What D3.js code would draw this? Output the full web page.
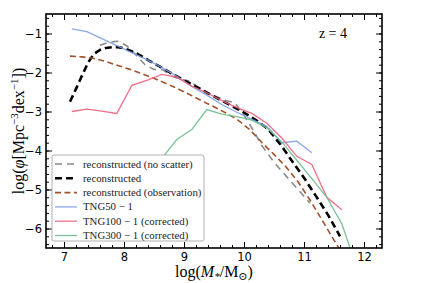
<!DOCTYPE html>
<html>
<head>
<meta charset="utf-8">
<script src="https://cdn.jsdelivr.net/npm/d3@7"></script>
<style>
  body { margin: 0; background: #fff; }
  svg { display: block; }
</style>
</head>
<body>
<div id="chart"></div>
<script>
// data (log M*, log phi)
const tng50Mass = [7.13, 7.38, 7.63, 7.88, 8.13, 8.38, 8.63, 8.88, 9.13, 9.38, 9.63, 9.88, 10.13, 10.38, 10.63, 10.88, 11.13];
const tng50Phi = [-0.88, -0.95, -1.13, -1.31, -1.49, -1.67, -1.87, -2.1, -2.36, -2.58, -2.82, -3.02, -3.2, -3.38, -3.8, -3.76, -4.06];

const tng100Mass = [7.13, 7.38, 7.63, 7.88, 8.13, 8.38, 8.63, 8.88, 9.13, 9.38, 9.63, 9.88, 10.13, 10.38, 10.63, 10.88, 11.13, 11.38, 11.63];
const tng100Phi = [-3.0, -2.94, -2.99, -3.05, -2.33, -2.2, -2.05, -2.12, -2.35, -2.52, -2.72, -2.9, -3.05, -3.3, -3.68, -4.15, -4.36, -5.2, -5.52];

const tng300Mass = [8.63, 8.88, 9.13, 9.38, 9.63, 9.88, 10.13, 10.38, 10.63, 10.88, 11.13, 11.38, 11.63, 11.88];
const tng300Phi = [-4.2, -3.72, -3.46, -2.95, -3.07, -3.13, -3.22, -3.42, -3.78, -4.25, -4.72, -5.2, -5.88, -7.0];

const recoMass = [7.1, 7.2, 7.3, 7.4, 7.5, 7.6, 7.7, 7.8, 7.9, 8.0, 8.2, 8.4, 8.6, 8.8, 9.0, 9.2, 9.4, 9.6, 9.8, 10.0, 10.2, 10.4, 10.6, 10.8, 11.0, 11.2, 11.4, 11.6];
const recoPhi = [-2.75, -2.42, -2.08, -1.75, -1.52, -1.42, -1.37, -1.35, -1.35, -1.38, -1.5, -1.68, -1.85, -2.03, -2.2, -2.36, -2.53, -2.7, -2.86, -3.03, -3.22, -3.45, -3.83, -4.27, -4.7, -5.17, -5.65, -6.2];

const noScatterMass = [7.6, 7.75, 7.9, 8.05, 8.2, 8.35, 8.5, 8.65, 8.8, 8.95, 9.1, 9.25, 9.4, 9.55, 9.7, 9.85, 10.0, 10.15, 10.3, 10.5, 10.7, 10.9, 11.1];
const noScatterPhi = [-1.3, -1.22, -1.2, -1.32, -1.55, -1.8, -1.92, -1.93, -2.1, -2.18, -2.22, -2.4, -2.55, -2.62, -2.72, -2.78, -3.1, -3.47, -3.88, -4.3, -4.65, -5.0, -5.35];

const obsMass = [7.1, 7.3, 7.5, 7.7, 7.9, 8.1, 8.3, 8.5, 8.7, 8.9, 9.1, 9.3, 9.5, 9.7, 9.9, 10.1, 10.3, 10.5, 10.7, 10.9, 11.1, 11.3, 11.5, 11.6];
const obsPhi = [-1.58, -1.6, -1.64, -1.72, -1.82, -1.92, -2.03, -2.15, -2.28, -2.42, -2.57, -2.73, -2.88, -3.04, -3.22, -3.47, -3.8, -4.1, -4.42, -4.8, -5.27, -5.78, -6.3, -6.55];

const xTicks = [7, 8, 9, 10, 11, 12];
const yTicks = [-6, -5, -4, -3, -2, -1];

const width = 424;
const height = 283;
const marginTop = 14;
const marginRight = 42;
const marginBottom = 35;
const marginLeft = 46;

const x = d3.scaleLinear().domain([6.7, 12.3]).range([marginLeft, width - marginRight]);
const y = d3.scaleLinear().domain([-6.5, -0.5]).range([height - marginBottom, marginTop]);

const svg = d3.create("svg").attr("width", width).attr("height", height);

svg.append("clipPath").attr("id", "plot")
  .append("rect")
  .attr("x", marginLeft).attr("y", marginTop)
  .attr("width", width - marginLeft - marginRight)
  .attr("height", height - marginTop - marginBottom);

const line = d3.line().x(d => x(d[0])).y(d => y(d[1]));
const pairs = (ms, ps) => ms.map((m, i) => [m, ps[i]]);

const series = [
  {label: "reconstructed (no scatter)", m: noScatterMass, p: noScatterPhi, color: "#8a8a8a", w: 1.6, dash: "7,5", op: 1},
  {label: "reconstructed", m: recoMass, p: recoPhi, color: "#000", w: 2.6, dash: "7,4", op: 1},
  {label: "reconstructed (observation)", m: obsMass, p: obsPhi, color: "#a0522d", w: 1.6, dash: "6,3.5", op: 1},
  {label: "TNG50 \u2212 1", m: tng50Mass, p: tng50Phi, color: "#7b9fe6", w: 1.3, dash: null, op: 0.9},
  {label: "TNG100 \u2212 1 (corrected)", m: tng100Mass, p: tng100Phi, color: "#ee5f7c", w: 1.3, dash: null, op: 0.9},
  {label: "TNG300 \u2212 1 (corrected)", m: tng300Mass, p: tng300Phi, color: "#6dbb8c", w: 1.3, dash: null, op: 0.9}
];

const lines = svg.append("g").attr("clip-path", "url(#plot)");
lines.selectAll("path")
  .data(series)
  .join("path")
  .attr("fill", "none")
  .attr("stroke", d => d.color)
  .attr("stroke-width", d => d.w)
  .attr("stroke-dasharray", d => d.dash)
  .attr("stroke-opacity", d => d.op)
  .attr("d", d => line(pairs(d.m, d.p)));

// axes, ticks pointing in, mirrored on all sides
const xMinor = d3.range(6.8, 12.3, 0.2);
const yMinor = d3.range(-6.4, -0.5, 0.2);
const tickFont = "'DejaVu Sans', sans-serif";

function styleAxis(g) {
  g.select(".domain").remove();
  g.selectAll("line").attr("stroke", "#000").attr("stroke-width", 1);
  g.selectAll("text").attr("font-family", tickFont).attr("font-size", 11.5).attr("fill", "#000");
}

svg.append("g").attr("transform", `translate(0,${height - marginBottom})`)
  .call(d3.axisBottom(x).tickValues(xMinor).tickSize(-3).tickFormat("")).call(styleAxis);
svg.append("g").attr("transform", `translate(0,${height - marginBottom})`)
  .call(d3.axisBottom(x).tickValues(xTicks).tickSize(-6).tickPadding(5).tickFormat(d3.format("d"))).call(styleAxis);
svg.append("g").attr("transform", `translate(0,${marginTop})`)
  .call(d3.axisTop(x).tickValues(xMinor).tickSize(-3).tickFormat("")).call(styleAxis);
svg.append("g").attr("transform", `translate(0,${marginTop})`)
  .call(d3.axisTop(x).tickValues(xTicks).tickSize(-6).tickFormat("")).call(styleAxis);

svg.append("g").attr("transform", `translate(${marginLeft},0)`)
  .call(d3.axisLeft(y).tickValues(yMinor).tickSize(-3).tickFormat("")).call(styleAxis);
svg.append("g").attr("transform", `translate(${marginLeft},0)`)
  .call(d3.axisLeft(y).tickValues(yTicks).tickSize(-6).tickPadding(4).tickFormat(d3.format("d"))).call(styleAxis);
svg.append("g").attr("transform", `translate(${width - marginRight},0)`)
  .call(d3.axisRight(y).tickValues(yMinor).tickSize(-3).tickFormat("")).call(styleAxis);
svg.append("g").attr("transform", `translate(${width - marginRight},0)`)
  .call(d3.axisRight(y).tickValues(yTicks).tickSize(-6).tickFormat("")).call(styleAxis);

// frame
svg.append("rect")
  .attr("x", marginLeft).attr("y", marginTop)
  .attr("width", width - marginLeft - marginRight)
  .attr("height", height - marginTop - marginBottom)
  .attr("fill", "none").attr("stroke", "#000").attr("stroke-width", 1.6);

const serif = "'Liberation Serif', 'DejaVu Serif', serif";

// axis titles
const xt = svg.append("text")
  .attr("x", (marginLeft + width - marginRight) / 2).attr("y", 277)
  .attr("text-anchor", "middle").attr("font-family", serif).attr("font-size", 16);
xt.append("tspan").text("log(");
xt.append("tspan").attr("font-style", "italic").text("M");
xt.append("tspan").attr("font-style", "italic").attr("font-size", 11).attr("dy", 3).text("*");
xt.append("tspan").attr("dy", -3).text("/M");
xt.append("tspan").attr("font-size", 11).attr("dy", 3).text("\u2299");
xt.append("tspan").attr("dy", -3).text(")");

const yt = svg.append("text")
  .attr("transform", `translate(24,${(marginTop + height - marginBottom) / 2}) rotate(-90)`)
  .attr("text-anchor", "middle").attr("font-family", serif).attr("font-size", 16);
yt.append("tspan").text("log(");
yt.append("tspan").attr("font-style", "italic").text("\u03c6");
yt.append("tspan").text("[Mpc");
yt.append("tspan").attr("font-size", 11).attr("dy", -6).text("\u22123");
yt.append("tspan").attr("dy", 6).text("dex");
yt.append("tspan").attr("font-size", 11).attr("dy", -6).text("\u22121");
yt.append("tspan").attr("dy", 6).text("])");

svg.append("text")
  .attr("x", 347).attr("y", 38)
  .attr("text-anchor", "end").attr("font-family", serif).attr("font-size", 14)
  .text("z = 4");

// legend
const legend = svg.append("g");
legend.append("rect")
  .attr("x", 52).attr("y", 155).attr("width", 152).attr("height", 86)
  .attr("rx", 2).attr("fill", "#fff").attr("stroke", "#b0b0b0").attr("stroke-width", 1);

const row = legend.selectAll("g.row")
  .data(series)
  .join("g")
  .attr("class", "row")
  .attr("transform", (d, i) => `translate(0,${164 + i * 14.3})`);
row.append("line")
  .attr("x1", 55).attr("x2", 77).attr("y1", 0).attr("y2", 0)
  .attr("stroke", d => d.color)
  .attr("stroke-width", d => d.w)
  .attr("stroke-dasharray", d => d.dash)
  .attr("stroke-opacity", d => d.op);
row.append("text")
  .attr("x", 83).attr("y", 3.5)
  .attr("font-family", serif).attr("font-size", 10.8).attr("fill", "#222")
  .text(d => d.label);

document.getElementById("chart").appendChild(svg.node());
</script>
</body>
</html>
